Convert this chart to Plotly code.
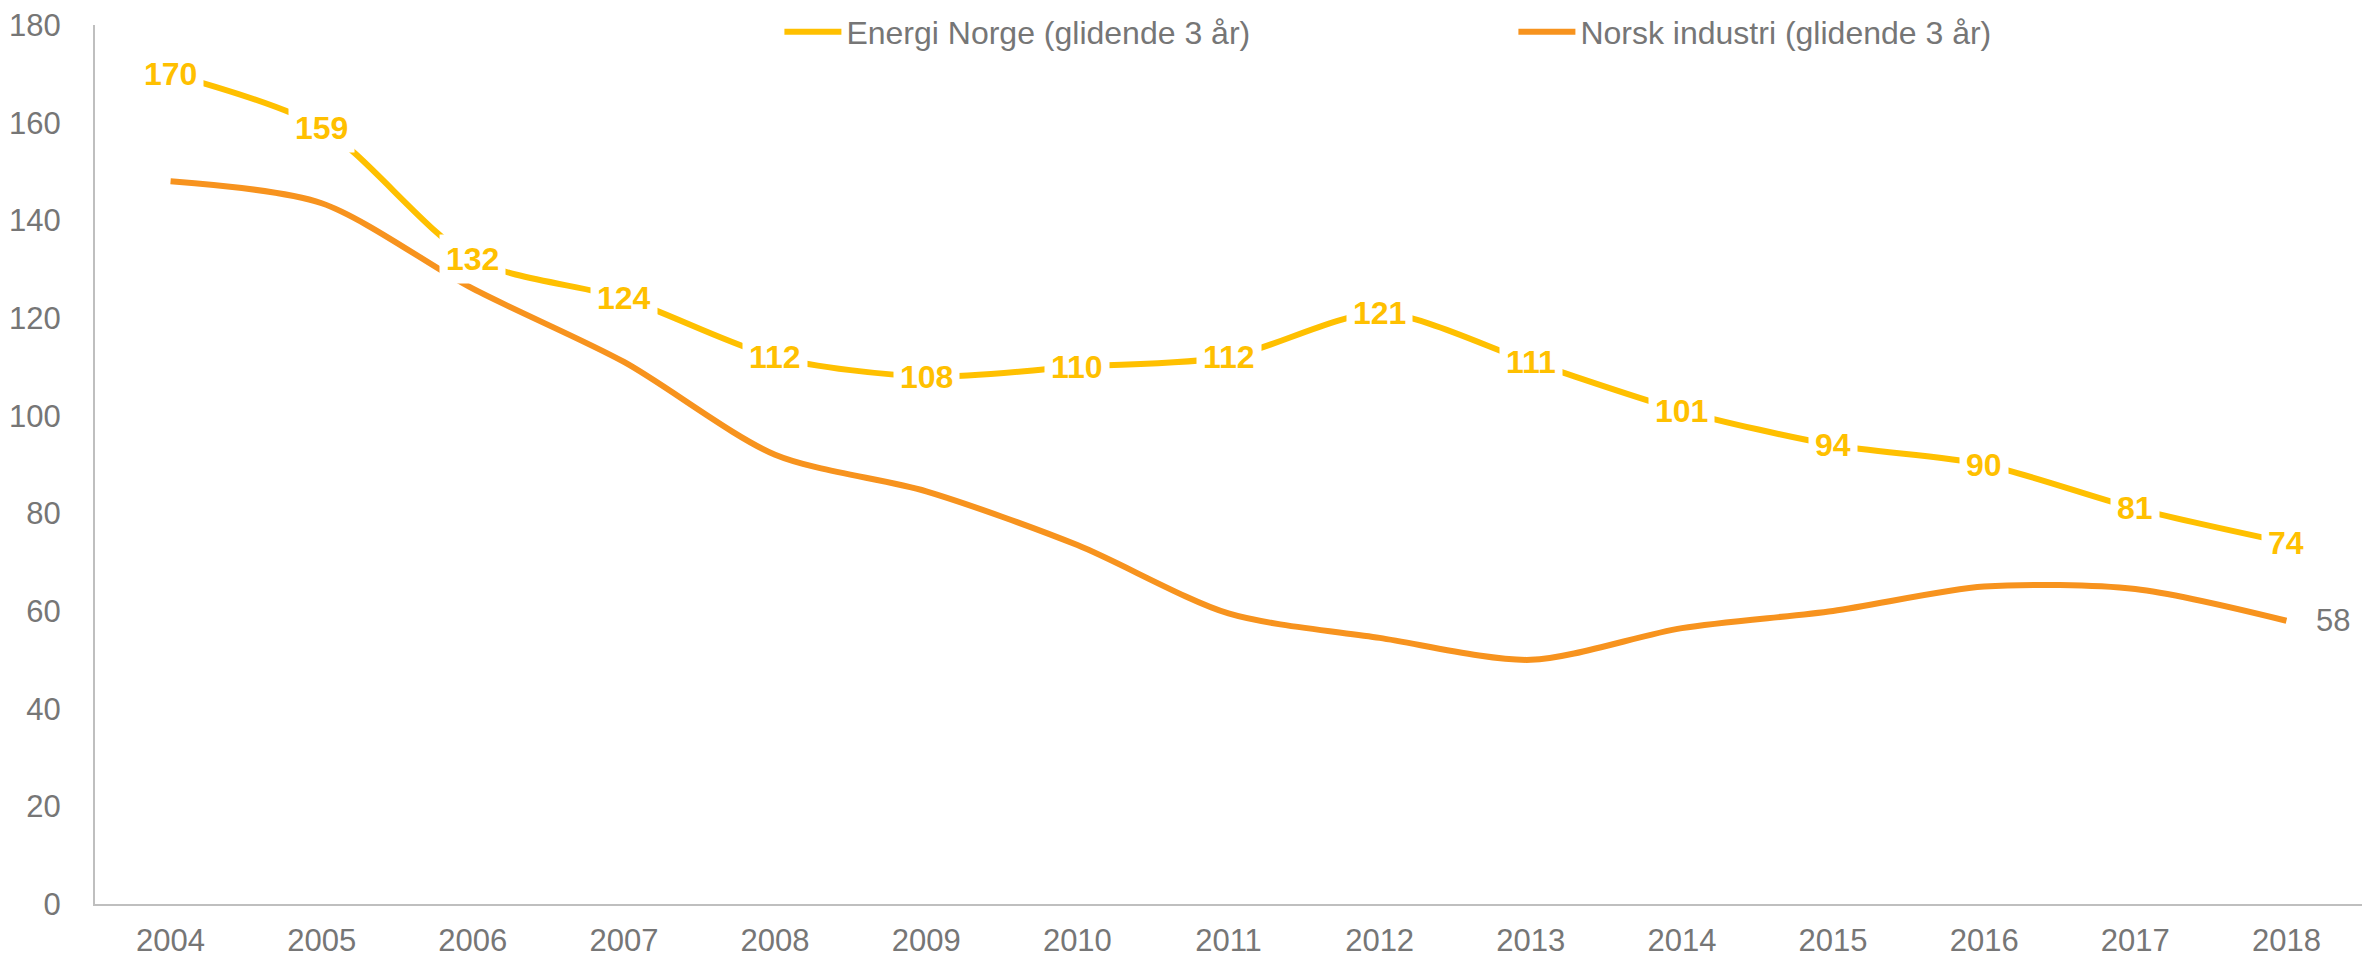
import plotly.graph_objects as go

years = ["2004", "2005", "2006", "2007", "2008", "2009", "2010", "2011",
         "2012", "2013", "2014", "2015", "2016", "2017", "2018"]
energi_norge = [170, 159, 132, 124, 112, 108, 110, 112, 121, 111, 101, 94, 90, 81, 74]
norsk_industri = [148, 143.5, 126, 111, 92, 84.5, 73.5, 59.5, 54.5, 50, 56.5, 60, 65, 64.5, 58]
name_en = "Energi Norge (glidende 3 år)"
name_ni = "Norsk industri (glidende 3 år)"
y_ticks = [0, 20, 40, 60, 80, 100, 120, 140, 160, 180]

YELLOW = "#FFC000"
ORANGE = "#F7931E"
GRAY = "#767676"
FONT = "Liberation Sans, Arial, sans-serif"

fig = go.Figure()
fig.add_trace(go.Scatter(x=years, y=energi_norge, name=name_en, mode="lines",
                         line=dict(color=YELLOW, width=6, shape="spline", smoothing=0.8)))
fig.add_trace(go.Scatter(x=years, y=norsk_industri, name=name_ni, mode="lines",
                         line=dict(color=ORANGE, width=6, shape="spline", smoothing=0.8)))

annotations = []
for i, v in enumerate(energi_norge):
    annotations.append(dict(x=i, y=v, xref="x", yref="y", text=str(v), showarrow=False,
                            bgcolor="white", borderpad=6,
                            font=dict(family=FONT, size=32, color=YELLOW, weight="bold")))
annotations.append(dict(x=len(years) - 1, y=norsk_industri[-1], xref="x", yref="y",
                        text=str(round(norsk_industri[-1])), showarrow=False,
                        xanchor="left", xshift=28,
                        font=dict(family=FONT, size=31, color=GRAY)))

fig.update_layout(
    width=2362, height=957,
    margin=dict(l=95, r=0, t=25, b=53),
    paper_bgcolor="white", plot_bgcolor="white",
    font=dict(family=FONT, size=31, color=GRAY),
    showlegend=True,
    legend=dict(orientation="h", x=0.3019, xanchor="left", y=0.992, yanchor="middle",
                font=dict(family=FONT, size=32, color=GRAY),
                entrywidth=662, entrywidthmode="pixels", bgcolor="rgba(0,0,0,0)",
                itemwidth=57),
    annotations=annotations,
)
fig.update_xaxes(type="category", range=[-0.5, 14.5], showgrid=False, zeroline=False,
                 showline=True, linecolor="#BFBFBF", linewidth=2, ticks="", automargin=False,
                 ticklabelstandoff=8, tickfont=dict(family=FONT, size=31, color=GRAY))
fig.update_yaxes(range=[0, 180], tickvals=y_ticks, showgrid=False, zeroline=False,
                 showline=True, linecolor="#BFBFBF", linewidth=2, ticks="", automargin=False,
                 ticklabelstandoff=26, tickfont=dict(family=FONT, size=31, color=GRAY))

fig.write_html("out.html", config={"displayModeBar": False},
               post_script="document.body.style.margin='0px';document.body.style.overflow='hidden';")
